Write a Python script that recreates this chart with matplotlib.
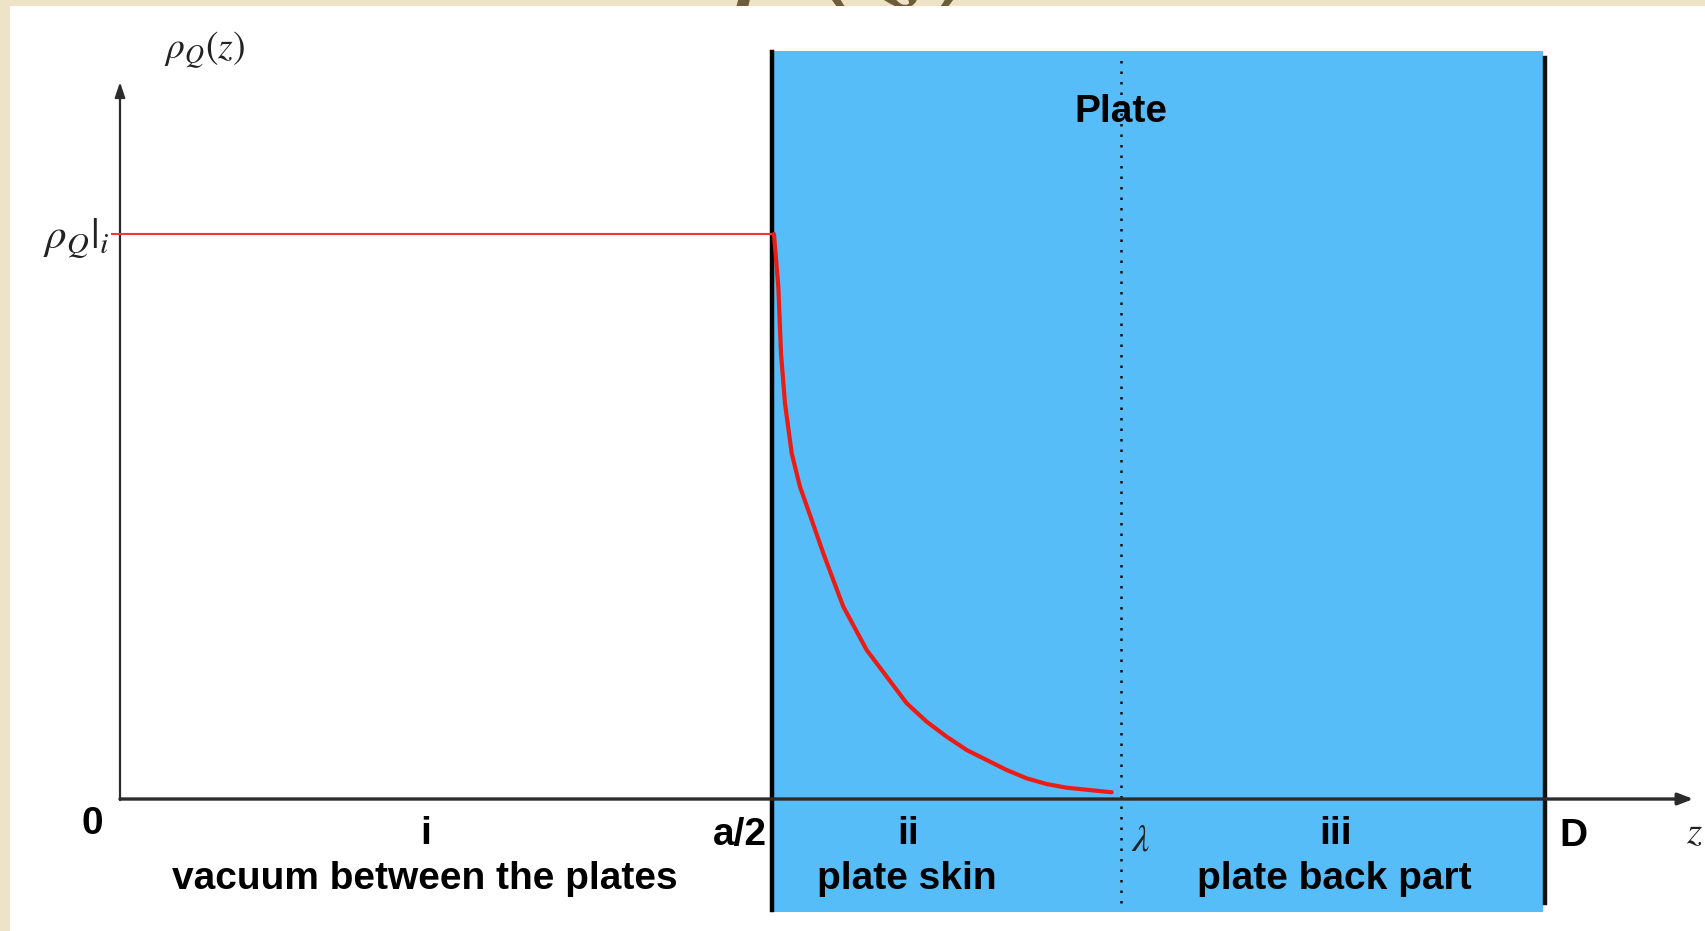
import numpy as np
import matplotlib
matplotlib.use('Agg')
import matplotlib.pyplot as plt
from matplotlib.patches import Rectangle

plt.rcParams['mathtext.fontset'] = 'stix'

# positions along z (a/2 taken as unit length)
z_half_gap = 1.0     # a/2
z_lambda = 1.535     # skin depth
z_back = 2.183       # end of the blue plate
z_D = 2.189          # D
rho_i = 1.0          # rho_Q in region i

# charge density
z_vacuum = [0.0, 1.0]
rho_vacuum = [1.0, 1.0]
z_skin = [1.003, 1.0097, 1.0138, 1.0199, 1.0302, 1.0429, 1.0609, 1.0787, 1.094,
          1.1094, 1.1452, 1.176, 1.2066, 1.2373, 1.2679, 1.2986, 1.3293, 1.360,
          1.3906, 1.4213, 1.452, 1.521]
rho_skin = [1.0, 0.9067, 0.7888, 0.7004, 0.6119, 0.5527, 0.4938, 0.4349, 0.3876,
            0.3404, 0.2637, 0.2165, 0.1694, 0.1368, 0.1103, 0.0867, 0.069, 0.0513,
            0.0366, 0.0265, 0.020, 0.0119]

region_numbers = ['i', 'ii', 'iii']
region_names = ['vacuum between the plates', 'plate skin', 'plate back part']
region_centers = [0.469, 1.209, 1.865]

BLUE = '#56bdf8'
BOLD = dict(fontsize=28, fontweight='bold', family='Liberation Sans', color='black')

fig = plt.figure(figsize=(17.06, 9.31), dpi=100, facecolor='#eee3c6')

# big title glyphs cut off behind the white page
fig.text(0.497, 1.004, r'$\rho(z)$', fontsize=110, color='#6e5d3a',
         ha='center', va='baseline', zorder=-1)

ax = fig.add_axes([10 / 1706, 0, 1696 / 1706, 925 / 931])
ax.set_facecolor('white')
ax.set_xlim(-0.1687, 2.4325)
ax.set_ylim(-0.2336, 1.4035)
ax.set_xticks([])
ax.set_yticks([])
for s in ax.spines.values():
    s.set_visible(False)

# plate
ax.add_patch(Rectangle((z_half_gap, -0.200), z_back - z_half_gap, 1.524,
                       facecolor=BLUE, edgecolor='none', zorder=1))
ax.plot([z_half_gap, z_half_gap], [-0.196, 1.322], color='black', lw=3.2, zorder=4)
ax.plot([z_D - 0.003, z_D - 0.003], [-0.184, 1.312], color='#111111', lw=3.2, zorder=4)
ax.plot([z_lambda, z_lambda], [-0.184, 1.308], color='#111111', lw=1.8,
        linestyle=(0, (1, 3.2)), zorder=3)

# axes arrows
ax.annotate('', xy=(2.413, 0), xytext=(0, 0),
            arrowprops=dict(arrowstyle='-|>,head_length=0.9,head_width=0.35',
                            color='#2b2b2b', lw=2.4, shrinkA=0, shrinkB=0), zorder=5)
ax.annotate('', xy=(0, 1.269), xytext=(0, -0.002),
            arrowprops=dict(arrowstyle='-|>,head_length=0.9,head_width=0.3',
                            color='#2b2b2b', lw=1.6, shrinkA=0, shrinkB=0), zorder=5)

# density
ax.plot([-0.012] + z_vacuum, [rho_i] + rho_vacuum, color='#f03a30', lw=1.5, zorder=6)
ax.plot(z_skin, rho_skin, color='#ec1c14', lw=3.0, zorder=6,
        solid_capstyle='round', solid_joinstyle='round')

# labels
ax.text(0.130, 1.326, r'$\rho_Q(z)$', fontsize=27, color='#222222', ha='center', va='center')
ax.text(-0.017, 0.992, r'$\rho_Q|_i$', fontsize=31, color='#222222', ha='right', va='center')
ax.text(1.535, 1.216, 'Plate', ha='center', va='center', zorder=7, **BOLD)

ax.text(-0.043, -0.044, '0', ha='center', va='center', **BOLD)
ax.text(0.992, -0.064, 'a/2', ha='right', va='center', **BOLD)
ax.text(2.229, -0.065, 'D', ha='center', va='center', **BOLD)
ax.text(1.566, -0.071, r'$\lambda$', fontsize=28, color='#222222', ha='center', va='center')
ax.text(2.414, -0.058, r'$z$', fontsize=28, color='#222222', ha='center', va='center')

for zc, num, name in zip(region_centers, region_numbers, region_names):
    ax.text(zc, -0.062, num, ha='center', va='center', **BOLD)
    ax.text(zc - 0.002, -0.142, name, ha='center', va='center', **BOLD)

fig.savefig('out.png', dpi=100, facecolor=fig.get_facecolor())
